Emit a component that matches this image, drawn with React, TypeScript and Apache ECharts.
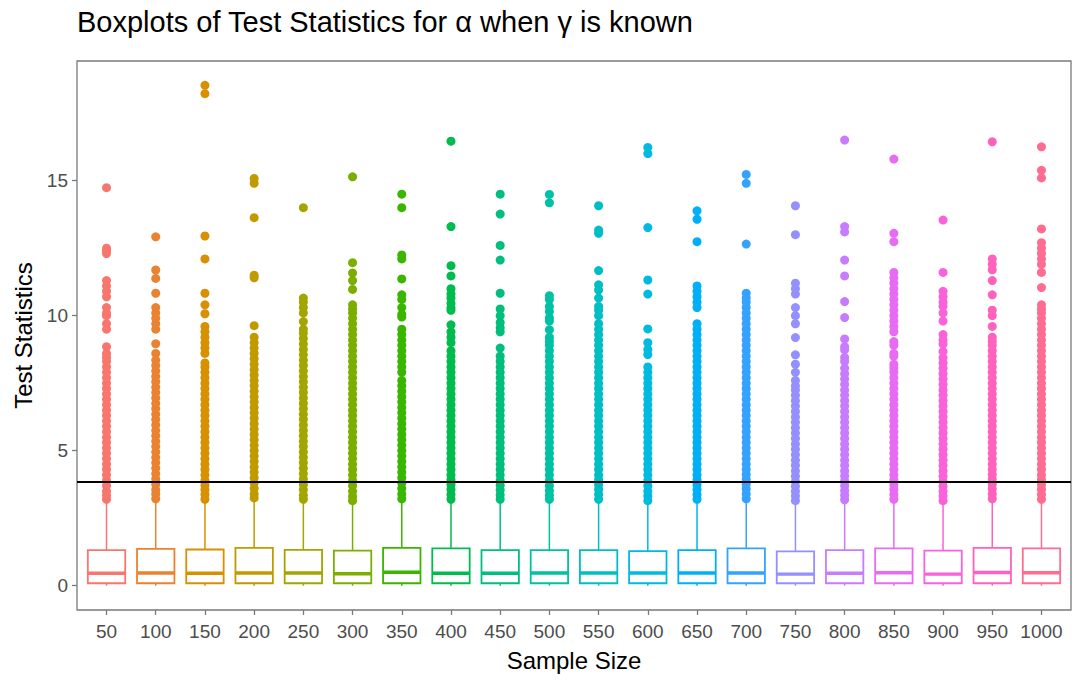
import React, { useEffect, useRef } from "react";
import * as echarts from "echarts";

const categories = ["50", "100", "150", "200", "250", "300", "350", "400", "450", "500", "550", "600", "650", "700", "750", "800", "850", "900", "950", "1000"];

const colors = ["#F8766D", "#EA8331", "#D89000", "#C09B00", "#A3A500", "#7CAE00", "#39B600", "#00BB4E", "#00BF7D", "#00C1A3", "#00BFC4", "#00BAE0", "#00B0F6", "#35A2FF", "#9590FF", "#C77CFF", "#E76BF3", "#FA62DB", "#FF62BC", "#FF6C91"];

const whiskerLow = [0.0, 0.0, 0.0, 0.0, 0.0, 0.0, 0.0, 0.0, 0.0, 0.0, 0.0, 0.0, 0.0, 0.0, 0.0, 0.0, 0.0, 0.0, 0.0, 0.0];
const q1 = [0.09, 0.09, 0.09, 0.09, 0.09, 0.09, 0.09, 0.09, 0.09, 0.09, 0.09, 0.09, 0.09, 0.09, 0.09, 0.09, 0.09, 0.09, 0.09, 0.09];
const medians = [0.46, 0.47, 0.46, 0.47, 0.47, 0.44, 0.5, 0.46, 0.46, 0.47, 0.47, 0.47, 0.47, 0.47, 0.43, 0.46, 0.48, 0.43, 0.49, 0.48];
const q3 = [1.32, 1.36, 1.34, 1.4, 1.33, 1.3, 1.4, 1.38, 1.32, 1.32, 1.32, 1.28, 1.32, 1.38, 1.27, 1.32, 1.38, 1.3, 1.4, 1.38];
const whiskerHigh = [3.15, 3.16, 3.15, 3.2, 3.14, 3.1, 3.2, 3.18, 3.15, 3.15, 3.15, 3.1, 3.15, 3.18, 3.1, 3.14, 3.18, 3.12, 3.2, 3.18];

const out50 = [3.2, 3.35, 3.5, 3.7, 3.9, 4.1, 4.3, 4.5, 4.7, 4.9, 5.1, 5.3, 5.5, 5.7, 5.9, 6.1, 6.3, 6.5, 6.7, 6.9, 7.1, 7.3, 7.5, 7.7, 7.9, 8.1, 8.3, 8.45, 8.6, 8.85, 9.5, 9.7, 10.0, 10.1, 10.3, 10.7, 10.9, 11.1, 11.3, 12.3, 12.4, 12.5, 14.74];
const out100 = [3.22, 3.4, 3.55, 3.75, 3.95, 4.15, 4.35, 4.55, 4.75, 4.95, 5.15, 5.35, 5.55, 5.75, 5.95, 6.15, 6.35, 6.55, 6.75, 6.95, 7.15, 7.35, 7.55, 7.75, 7.95, 8.15, 8.35, 8.6, 8.96, 9.5, 9.7, 9.9, 10.1, 10.3, 10.83, 11.38, 11.69, 12.92];
const out150 = [3.2, 3.38, 3.55, 3.72, 3.9, 4.1, 4.3, 4.5, 4.7, 4.9, 5.1, 5.3, 5.5, 5.7, 5.9, 6.1, 6.3, 6.5, 6.7, 6.9, 7.1, 7.3, 7.5, 7.7, 7.9, 8.1, 8.25, 8.6, 8.8, 9.0, 9.2, 9.4, 9.6, 10.07, 10.4, 10.83, 12.1, 12.95, 18.22, 18.53];
const out200 = [3.25, 3.4, 3.6, 3.8, 4.0, 4.2, 4.4, 4.6, 4.8, 5.0, 5.2, 5.4, 5.6, 5.8, 6.0, 6.2, 6.4, 6.6, 6.8, 7.0, 7.2, 7.4, 7.6, 7.8, 8.0, 8.2, 8.4, 8.6, 8.8, 9.0, 9.2, 9.63, 11.4, 11.5, 13.63, 14.9, 15.08];
const out250 = [3.2, 3.35, 3.55, 3.75, 3.95, 4.15, 4.35, 4.55, 4.75, 4.95, 5.15, 5.35, 5.55, 5.75, 5.95, 6.15, 6.35, 6.55, 6.75, 6.95, 7.15, 7.35, 7.55, 7.75, 7.95, 8.15, 8.35, 8.55, 8.75, 8.95, 9.15, 9.35, 9.5, 9.78, 10.1, 10.3, 10.5, 10.65, 14.0];
const out300 = [3.15, 3.3, 3.5, 3.7, 3.9, 4.1, 4.3, 4.5, 4.7, 4.9, 5.1, 5.3, 5.5, 5.7, 5.9, 6.1, 6.3, 6.5, 6.7, 6.9, 7.1, 7.3, 7.5, 7.7, 7.9, 8.1, 8.3, 8.5, 8.7, 8.9, 9.1, 9.3, 9.5, 9.7, 9.9, 10.1, 10.25, 10.4, 10.97, 11.3, 11.58, 11.96, 15.14];
const out350 = [3.22, 3.4, 3.6, 3.8, 4.0, 4.2, 4.4, 4.6, 4.8, 5.0, 5.2, 5.4, 5.6, 5.8, 6.0, 6.2, 6.4, 6.6, 6.8, 7.0, 7.2, 7.4, 7.6, 7.9, 8.1, 8.3, 8.5, 8.7, 8.9, 9.1, 9.3, 9.5, 9.95, 10.05, 10.3, 10.6, 10.77, 11.36, 12.1, 12.25, 14.0, 14.5];
const out400 = [3.2, 3.38, 3.56, 3.74, 3.92, 4.1, 4.3, 4.5, 4.7, 4.9, 5.1, 5.3, 5.5, 5.7, 5.9, 6.1, 6.3, 6.5, 6.7, 6.9, 7.1, 7.3, 7.5, 7.7, 7.9, 8.1, 8.3, 8.5, 8.7, 9.0, 9.2, 9.4, 9.66, 10.2, 10.29, 10.45, 10.65, 10.8, 11.0, 11.47, 11.85, 13.3, 16.46];
const out450 = [3.2, 3.36, 3.54, 3.72, 3.9, 4.1, 4.3, 4.5, 4.7, 4.9, 5.1, 5.3, 5.5, 5.7, 5.9, 6.1, 6.3, 6.5, 6.7, 6.9, 7.1, 7.3, 7.5, 7.7, 7.9, 8.1, 8.3, 8.5, 8.8, 9.4, 9.55, 9.75, 10.0, 10.25, 10.83, 12.06, 12.6, 13.76, 14.5];
const out500 = [3.2, 3.35, 3.52, 3.7, 3.9, 4.1, 4.3, 4.5, 4.7, 4.9, 5.1, 5.3, 5.5, 5.7, 5.9, 6.1, 6.3, 6.5, 6.7, 6.9, 7.1, 7.3, 7.5, 7.7, 7.9, 8.1, 8.3, 8.5, 8.7, 8.9, 9.05, 9.2, 9.48, 9.8, 9.92, 10.15, 10.34, 10.6, 10.74, 14.18, 14.49];
const out550 = [3.2, 3.38, 3.56, 3.74, 3.92, 4.1, 4.3, 4.5, 4.7, 4.9, 5.1, 5.3, 5.5, 5.7, 5.9, 6.1, 6.3, 6.5, 6.7, 6.9, 7.1, 7.3, 7.5, 7.7, 7.9, 8.1, 8.3, 8.5, 8.7, 8.9, 9.1, 9.3, 9.5, 9.7, 10.0, 10.2, 10.34, 10.65, 10.95, 11.14, 11.67, 13.05, 13.17, 14.07];
const out600 = [3.15, 3.32, 3.5, 3.7, 3.9, 4.1, 4.3, 4.5, 4.7, 4.9, 5.1, 5.3, 5.5, 5.7, 5.9, 6.1, 6.3, 6.5, 6.7, 6.9, 7.1, 7.3, 7.5, 7.7, 7.9, 8.1, 8.56, 8.75, 9.0, 9.51, 10.8, 11.32, 13.26, 16.0, 16.23];
const out650 = [3.2, 3.37, 3.55, 3.73, 3.92, 4.1, 4.3, 4.5, 4.7, 4.9, 5.1, 5.3, 5.5, 5.7, 5.9, 6.1, 6.3, 6.5, 6.7, 6.9, 7.1, 7.3, 7.5, 7.7, 7.9, 8.1, 8.3, 8.5, 8.7, 8.9, 9.1, 9.3, 9.5, 9.7, 10.3, 10.5, 10.7, 10.9, 11.1, 12.74, 13.57, 13.88];
const out700 = [3.22, 3.4, 3.58, 3.76, 3.94, 4.12, 4.3, 4.5, 4.7, 4.9, 5.1, 5.3, 5.5, 5.7, 5.9, 6.1, 6.3, 6.5, 6.7, 6.9, 7.1, 7.3, 7.5, 7.7, 7.9, 8.1, 8.3, 8.5, 8.7, 8.9, 9.1, 9.3, 9.5, 9.7, 9.9, 10.1, 10.3, 10.5, 10.65, 10.83, 12.65, 14.9, 15.23];
const out750 = [3.15, 3.32, 3.5, 3.68, 3.86, 4.05, 4.25, 4.45, 4.65, 4.85, 5.05, 5.25, 5.45, 5.65, 5.85, 6.05, 6.25, 6.45, 6.65, 6.85, 7.05, 7.25, 7.4, 7.6, 7.9, 8.2, 8.55, 9.19, 9.7, 10.0, 10.3, 10.8, 11.0, 11.2, 13.0, 14.07];
const out800 = [3.18, 3.35, 3.52, 3.7, 3.88, 4.06, 4.25, 4.45, 4.65, 4.85, 5.05, 5.25, 5.45, 5.65, 5.85, 6.05, 6.25, 6.45, 6.65, 6.85, 7.05, 7.25, 7.45, 7.65, 7.85, 8.05, 8.3, 8.45, 8.74, 8.85, 9.14, 9.93, 10.52, 11.47, 12.06, 13.1, 13.3, 16.5];
const out850 = [3.2, 3.38, 3.56, 3.74, 3.92, 4.1, 4.3, 4.5, 4.7, 4.9, 5.1, 5.3, 5.5, 5.7, 5.9, 6.1, 6.3, 6.5, 6.7, 6.9, 7.1, 7.3, 7.5, 7.7, 7.9, 8.05, 8.2, 8.5, 8.6, 8.9, 9.04, 9.4, 9.6, 9.8, 10.0, 10.2, 10.4, 10.6, 10.8, 11.0, 11.2, 11.4, 11.6, 12.74, 13.05, 15.8];
const out900 = [3.15, 3.32, 3.5, 3.68, 3.86, 4.05, 4.25, 4.45, 4.65, 4.85, 5.05, 5.25, 5.45, 5.65, 5.85, 6.05, 6.25, 6.45, 6.65, 6.85, 7.05, 7.25, 7.45, 7.65, 7.85, 8.05, 8.25, 8.44, 8.67, 8.95, 9.1, 9.3, 9.8, 10.1, 10.35, 10.5, 10.7, 10.9, 11.6, 13.54];
const out950 = [3.22, 3.4, 3.58, 3.76, 3.94, 4.12, 4.3, 4.5, 4.7, 4.9, 5.1, 5.3, 5.5, 5.7, 5.9, 6.1, 6.3, 6.5, 6.7, 6.9, 7.1, 7.3, 7.5, 7.7, 7.9, 8.1, 8.3, 8.5, 8.7, 8.9, 9.05, 9.2, 9.6, 10.0, 10.2, 10.77, 11.3, 11.7, 11.9, 12.1, 16.44];
const out1000 = [3.2, 3.38, 3.56, 3.74, 3.92, 4.1, 4.3, 4.5, 4.7, 4.9, 5.1, 5.3, 5.5, 5.7, 5.9, 6.1, 6.3, 6.5, 6.7, 6.9, 7.1, 7.3, 7.5, 7.7, 7.9, 8.1, 8.3, 8.5, 8.7, 8.9, 9.1, 9.3, 9.5, 9.7, 9.9, 10.1, 10.25, 10.4, 11.04, 11.6, 11.9, 12.1, 12.3, 12.5, 12.7, 13.21, 15.1, 15.38, 16.25];

const outliers = [out50, out100, out150, out200, out250, out300, out350, out400, out450, out500, out550, out600, out650, out700, out750, out800, out850, out900, out950, out1000];

const yTicks = [0, 5, 10, 15];
const criticalValue = 3.84;

const FONT = "Liberation Sans, Arial, Helvetica, sans-serif";

export default function App() {
  const ref = useRef<HTMLDivElement>(null);

  useEffect(() => {
    if (!ref.current) return;
    const chart = echarts.init(ref.current, undefined, { renderer: "svg" });
    const idx = categories.map((_, i) => i);

    const boxData = categories.map((_, i) => [i, whiskerLow[i], q1[i], medians[i], q3[i], whiskerHigh[i]]);
    const pointData: number[][] = [];
    outliers.forEach((arr, i) => arr.forEach((v) => pointData.push([i, v])));

    const option: any = {
      animation: false,
      backgroundColor: "#ffffff",
      title: {
        text: "Boxplots of Test Statistics for \u03b1 when \u03b3 is known",
        left: 77,
        top: 7,
        padding: 0,
        textStyle: { fontFamily: FONT, fontSize: 29, fontWeight: "normal", color: "#000000" },
      },
      grid: {
        left: 77,
        right: 13,
        top: 61,
        bottom: 76,
        show: true,
        borderColor: "#7a7a7a",
        borderWidth: 1.3,
        backgroundColor: "#ffffff",
      },
      xAxis: {
        type: "value",
        min: -0.6,
        max: 19.6,
        name: "Sample Size",
        nameLocation: "middle",
        nameGap: 38,
        nameTextStyle: { fontFamily: FONT, fontSize: 24, color: "#000000" },
        axisLine: { show: false, onZero: false },
        splitLine: { show: false },
        axisTick: { show: true, length: 5, customValues: idx, lineStyle: { color: "#7a7a7a", width: 1.3 } },
        axisLabel: {
          customValues: idx,
          formatter: (v: number) => categories[Math.round(v)] ?? "",
          fontFamily: FONT,
          fontSize: 19,
          color: "#4d4d4d",
          margin: 12,
        },
      },
      yAxis: {
        type: "value",
        min: -0.9,
        max: 19.43,
        name: "Test Statistics",
        nameLocation: "middle",
        nameRotate: 90,
        nameGap: 39,
        nameTextStyle: { fontFamily: FONT, fontSize: 24, color: "#000000" },
        axisLine: { show: false, onZero: false },
        splitLine: { show: false },
        axisTick: { show: true, length: 5, customValues: yTicks, lineStyle: { color: "#7a7a7a", width: 1.3 } },
        axisLabel: {
          customValues: yTicks,
          fontFamily: FONT,
          fontSize: 19,
          color: "#4d4d4d",
          margin: 9,
        },
      },
      series: [
        {
          type: "custom",
          z: 2,
          data: boxData,
          renderItem: (params: any, api: any) => {
            const i = api.value(0);
            const wl = api.coord([i, api.value(1)]);
            const b1 = api.coord([i, api.value(2)]);
            const md = api.coord([i, api.value(3)]);
            const b3 = api.coord([i, api.value(4)]);
            const wh = api.coord([i, api.value(5)]);
            const w = api.size([0.76, 0])[0];
            const c = colors[i];
            const x = b1[0];
            return {
              type: "group",
              children: [
                { type: "line", shape: { x1: x, y1: wh[1], x2: x, y2: b3[1] }, style: { stroke: c, lineWidth: 1.5 } },
                { type: "line", shape: { x1: x, y1: b1[1], x2: x, y2: wl[1] }, style: { stroke: c, lineWidth: 1.5 } },
                { type: "rect", shape: { x: x - w / 2, y: b3[1], width: w, height: b1[1] - b3[1] }, style: { fill: "#ffffff", stroke: c, lineWidth: 1.8 } },
                { type: "line", shape: { x1: x - w / 2, y1: md[1], x2: x + w / 2, y2: md[1] }, style: { stroke: c, lineWidth: 3.4 } },
              ],
            };
          },
        },
        {
          type: "scatter",
          z: 3,
          symbol: "circle",
          symbolSize: 9,
          data: pointData,
          itemStyle: { color: (p: any) => colors[p.data[0]], opacity: 1 },
        },
        {
          type: "line",
          z: 5,
          symbol: "none",
          data: [[-0.6, criticalValue], [19.6, criticalValue]],
          lineStyle: { color: "#000000", width: 2 },
        },
      ],
    };
    chart.setOption(option);
    return () => chart.dispose();
  }, []);

  return <div ref={ref} style={{ position: "fixed", left: 0, top: 0, width: 1084, height: 686 }} />;
}
